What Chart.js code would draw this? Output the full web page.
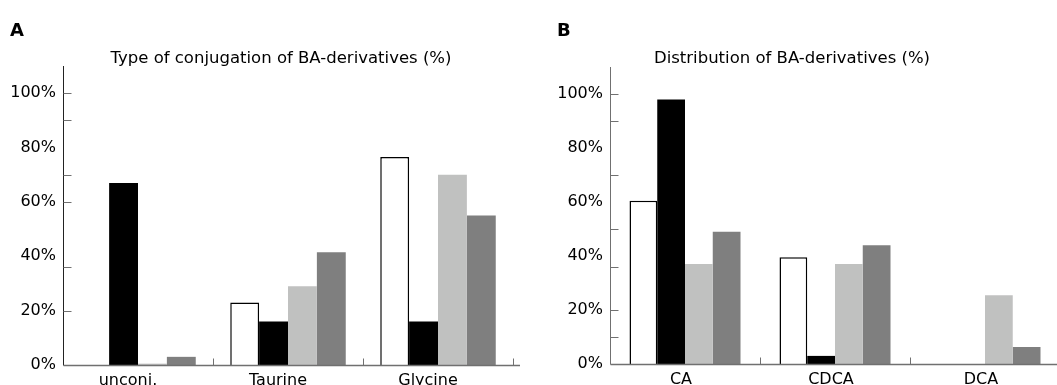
<!DOCTYPE html>
<html>
<head>
<meta charset="utf-8">
<script src="https://cdn.jsdelivr.net/npm/chart.js@4"></script>
<style>
html, body { margin: 0; padding: 0; background: #fff; overflow: hidden; width: 1057px; height: 385px; }
#wrap { position: relative; width: 1057px; height: 385px; overflow: hidden; font-family: 'DejaVu Sans', sans-serif; }
.box { position: absolute; top: 0; height: 385px; }
.letter { position: absolute; font-weight: bold; font-size: 18px; line-height: 18px; }
.ttl { position: absolute; font-size: 16.5px; line-height: 16px; transform: translateX(-50%); white-space: nowrap; }
</style>
</head>
<body>
<div id="wrap">
	<div class="box" style="left:0;width:528px"><canvas id="chartA"></canvas></div>
	<div class="box" style="left:528px;width:540px"><canvas id="chartB"></canvas></div>
	<div class="letter" style="left:10px;top:21px">A</div>
	<div class="letter" style="left:557px;top:21px">B</div>
	<div class="ttl" style="left:281px;top:50px">Type of conjugation of BA-derivatives (%)</div>
	<div class="ttl" style="left:792px;top:50px">Distribution of BA-derivatives (%)</div>
</div>
<script>
// A: 结合类型
var groupsA = ['unconj.', 'Taurine', 'Glycine'];
var whiteA = [0, 23, 76.5];
var blackA = [67, 16, 16];
var lightA = [0.5, 29, 70];
var darkA = [3, 41.5, 55];

// B: 分布
var groupsB = ['CA', 'CDCA', 'DCA'];
var whiteB = [60.5, 39.5, 0];
var blackB = [98, 3, 0];
var lightB = [37, 37, 25.5];
var darkB = [49, 44, 6.3];

// y ticks drawn on the axis
var yMarksA = [20, 36, 60, 70, 90, 100];
var yMarksB = [10, 20, 36, 50, 70, 90, 100];

Chart.defaults.font.family = "'DejaVu Sans', sans-serif";
Chart.defaults.font.size = 16;
Chart.defaults.color = '#000';

// 坐标轴 + 内侧刻度
var axesPlugin = {
	id: 'axes',
	afterDraw: function(chart, args, opts) {
		var ctx = chart.ctx, a = chart.chartArea;
		var x = chart.scales.x, y = chart.scales.y;
		function line(x1, y1, x2, y2, c, w) {
			ctx.beginPath(); ctx.strokeStyle = c; ctx.lineWidth = w;
			ctx.moveTo(x1, y1); ctx.lineTo(x2, y2); ctx.stroke();
		}
		ctx.save();
		var bx = Math.round(a.left) + 0.5;
		var by = Math.round(a.bottom) + 0.5;
		line(bx, a.top, bx, by, opts.yColor, 1);
		line(bx, by, a.right + opts.extra, by, '#707070', 1.5);
		opts.marks.forEach(function(v) {
			var py = Math.round(y.getPixelForValue(v)) + 0.5;
			line(bx, py, bx + 8, py, '#707070', 1);
		});
		var n = chart.data.labels.length;
		var half = (x.getPixelForValue(1) - x.getPixelForValue(0)) / 2;
		for (var i = 0; i < n; i++) {
			var px = Math.round(x.getPixelForValue(i) + half) + 0.5;
			line(px, by, px, by - 7, '#707070', 1);
		}
		ctx.restore();
	}
};

function makeChart(id, labels, w, b, l, d, opt) {
	var ctx = document.getElementById(id).getContext('2d');
	return new Chart(ctx, {
		type: 'bar',
		data: {
			labels: labels,
			datasets: [
				{ data: w, backgroundColor: '#ffffff', borderColor: '#000000', borderWidth: 1.5 },
				{ data: b, backgroundColor: '#000000' },
				{ data: l, backgroundColor: '#c0c1c0' },
				{ data: d, backgroundColor: '#7f7f7f' }
			]
		},
		options: {
			responsive: true,
			maintainAspectRatio: false,
			animation: false,
			datasets: { bar: { categoryPercentage: opt.cat, barPercentage: 1 } },
			layout: { padding: { top: opt.top, right: opt.right, left: 0, bottom: 0 } },
			scales: {
				x: {
					grid: { display: false, drawTicks: false },
					border: { display: false },
					ticks: { padding: 6, labelOffset: opt.lblOff, maxRotation: 0 },
					afterFit: function(s) { s.height = opt.xh; }
				},
				y: {
					min: 0, max: 110,
					grid: { display: false, drawTicks: false },
					border: { display: false },
					ticks: {
						stepSize: 20, padding: 7,
						callback: function(v) { return (v % 20 === 0 && v <= 100) ? v + '%' : null; }
					},
					afterFit: function(s) { s.width = opt.yw; }
				}
			},
			plugins: {
				legend: { display: false },
				tooltip: { enabled: false },
				axes: { marks: opt.marks, yColor: opt.yColor, extra: opt.extra }
			}
		},
		plugins: [axesPlugin]
	});
}

makeChart('chartA', groupsA, whiteA, blackA, lightA, darkA,
	{ cat: 0.77, top: 66, right: 15, xh: 20, yw: 63, lblOff: -10, marks: yMarksA, yColor: '#222', extra: 7 });
makeChart('chartB', groupsB, whiteB, blackB, lightB, darkB,
	{ cat: 0.74, top: 67, right: 8, xh: 21, yw: 82, lblOff: -4, marks: yMarksB, yColor: '#707070', extra: 10 });
</script>
</body>
</html>
